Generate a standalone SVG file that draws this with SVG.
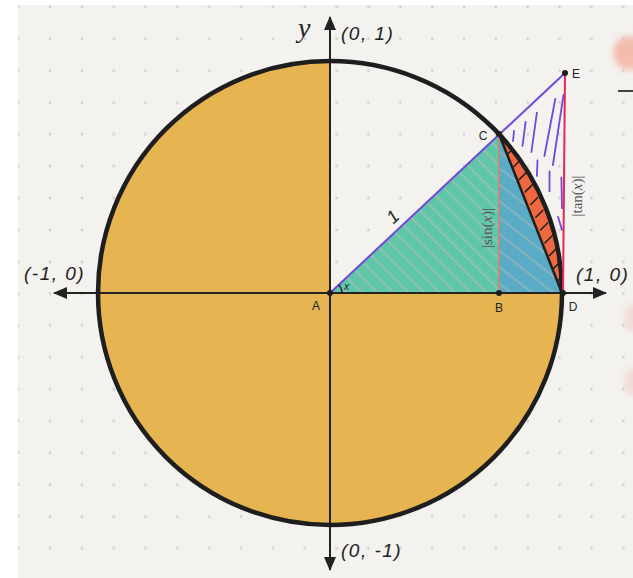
<svg xmlns="http://www.w3.org/2000/svg" width="633" height="578" viewBox="0 0 633 578">
<style>
.lbl{font-family:"Liberation Sans",Arial,sans-serif;font-style:italic;fill:#222;}
.pt{font-family:"Liberation Sans",Arial,sans-serif;fill:#222;font-size:12px;text-anchor:middle;}
.math{font-family:"Liberation Serif","DejaVu Serif",serif;fill:#555;font-size:15px;}
.ph{stroke:#7446dc;stroke-width:1.8;stroke-linecap:round;fill:none;}
.rh{stroke:#1e1e1e;stroke-width:1.5;stroke-linecap:round;fill:none;}
.dot{fill:#1e1e1e;}
</style>
<defs>
<pattern id="dots" patternUnits="userSpaceOnUse" x="34.075" y="-8.925" width="31.85" height="31.85">
<circle cx="15.925" cy="15.925" r="1.4" fill="#d3d1cc"/>
</pattern>
<pattern id="hg" patternUnits="userSpaceOnUse" width="11" height="11" patternTransform="rotate(-45)">
<line x1="5" y1="0" x2="5" y2="11" stroke="#c4bab0" stroke-width="2" stroke-opacity="0.5"/>
</pattern>
<pattern id="hb" patternUnits="userSpaceOnUse" width="13" height="13" patternTransform="rotate(-52)">
<line x1="6" y1="0" x2="6" y2="13" stroke="#c4bab0" stroke-width="1.8" stroke-opacity="0.45"/>
</pattern>
<marker id="arr" markerUnits="userSpaceOnUse" markerWidth="14" markerHeight="12" viewBox="0 0 14 12" refX="13" refY="6" orient="auto">
<path d="M0,0 L14,6 L0,12 Z" fill="#222"/>
</marker>
<filter id="blur" x="-50%" y="-50%" width="200%" height="200%"><feGaussianBlur stdDeviation="3"/></filter>
</defs>

<rect x="0" y="0" width="633" height="578" fill="#ffffff"/>
<rect x="18" y="5" width="615" height="573" fill="#f3f2ef"/>
<rect x="18" y="5" width="615" height="573" fill="url(#dots)"/>

<g id="edge-artifacts">
<circle cx="630" cy="53" r="17" fill="#f2ab99" opacity="0.75" filter="url(#blur)"/>
<line x1="618" y1="91" x2="633" y2="91" stroke="#444" stroke-width="2"/>
<ellipse cx="632" cy="318" rx="8" ry="14" fill="#f0c4c4" opacity="0.5" filter="url(#blur)"/>
<ellipse cx="632" cy="382" rx="8" ry="14" fill="#f0c4c4" opacity="0.5" filter="url(#blur)"/>
</g>

<g id="circle-fill">
<path d="M330,61 A232,232 0 1,0 562,293 L330,293 Z" fill="#e6b552"/>
</g>

<g id="triangle-ABC">
<path d="M330,293 L499,293 L499,134 Z" fill="#5fc6aa"/>
<path d="M330,293 L499,293 L499,134 Z" fill="url(#hg)"/>
</g>
<g id="triangle-BDC">
<path d="M499,293 L562,293 L499,134 Z" fill="#5aacc6"/>
<path d="M499,293 L562,293 L499,134 Z" fill="url(#hb)"/>
</g>
<g id="segment-CD">
<path d="M499,134 A232,232 0 0,1 562,293 Z" fill="#ef6840"/>
<path class="rh" d="M508,153.6 L511.6,150 M513.7,166.7 L519.3,161.1 M519.2,179.6 L526.2,172.6 M525.2,191.9 L532.2,184.9 M530.7,204.5 L537.7,197.5 M535.9,217.2 L542.9,210.2 M540.6,230 L547.6,223 M544.9,243 L551.9,236 M549.2,255.8 L555.6,249.4 M553.6,268.4 L558.4,263.6 M557.9,280.7 L560.5,278.1"/>
</g>
<g id="region-CED-hatch">
<path class="ph" d="M514,131 L513,141 M525.6,122 L522.5,145.8 M536.9,112.7 L531.4,152 M555.3,99 L544.4,156 M563.5,95 L552.9,165 M537.5,160.4 L536.9,175.8 M549.5,171.4 L549.5,191.2 M561.4,177.5 L562,208.2 M558,216.8 L562,230"/>
</g>

<g id="connectors">
<line id="x-axis" x1="68" y1="293" x2="592" y2="293" stroke="#222" stroke-width="2"/>
<line x1="100" y1="293" x2="54" y2="293" stroke="#222" stroke-width="2" marker-end="url(#arr)"/>
<line x1="560" y1="293" x2="606" y2="293" stroke="#222" stroke-width="2" marker-end="url(#arr)"/>
<line x1="330" y1="60" x2="330" y2="17" stroke="#222" stroke-width="2" marker-end="url(#arr)"/>
<line x1="330" y1="60" x2="330" y2="527" stroke="#222" stroke-width="2"/>
<line x1="330" y1="527" x2="330" y2="570" stroke="#222" stroke-width="2" marker-end="url(#arr)"/>
<circle cx="330" cy="293" r="232" fill="none" stroke="#1e1e1e" stroke-width="4.5"/>
<line id="BC" x1="499" y1="134" x2="499" y2="293" stroke="#d9806a" stroke-width="1.6"/>
<line id="CD" x1="499" y1="134" x2="562" y2="293" stroke="#1e1e1e" stroke-width="2.5"/>
<line id="DE" x1="565" y1="73" x2="563" y2="293" stroke="#e3294f" stroke-width="2"/>
<line id="AE" x1="330" y1="293" x2="565" y2="73" stroke="#7446dc" stroke-width="2"/>
<path id="angle" d="M342,293 A12,12 0 0,0 338.8,284.8" fill="none" stroke="#2a2050" stroke-width="1.5"/>
</g>

<g id="node-A"><circle class="dot" cx="330" cy="293" r="3"/><text class="pt" x="316" y="310">A</text><text class="lbl" x="344" y="290" font-size="10">x</text></g>
<g id="node-B"><circle class="dot" cx="499" cy="293" r="3"/><text class="pt" x="499" y="312">B</text></g>
<g id="node-C"><circle class="dot" cx="499" cy="134" r="3"/><text class="pt" x="483" y="140">C</text></g>
<g id="node-D"><circle class="dot" cx="563" cy="293" r="3"/><text class="pt" x="573" y="311">D</text></g>
<g id="node-E"><circle class="dot" cx="565" cy="73" r="3"/><text class="pt" x="576" y="78">E</text></g>

<g id="labels">
<text x="298" y="37" font-family="Liberation Serif,serif" font-style="italic" font-size="28" fill="#222">y</text>
<text class="lbl" x="341" y="40" font-size="19" letter-spacing="1.5">(0, 1)</text>
<text class="lbl" x="24" y="280" font-size="19" letter-spacing="1.5">(-1, 0)</text>
<text class="lbl" x="576" y="281" font-size="19" letter-spacing="1.5">(1, 0)</text>
<text class="lbl" x="341" y="557" font-size="19" letter-spacing="1.5">(0, -1)</text>
<text class="lbl" x="0" y="0" font-size="18" text-anchor="middle" transform="translate(397,221) rotate(-43)">1</text>
<text class="math" text-anchor="middle" transform="translate(492,228) rotate(-90)">|sin(<tspan font-style="italic">x</tspan>)|</text>
<text class="math" text-anchor="middle" transform="translate(582,196) rotate(-90)">|tan(<tspan font-style="italic">x</tspan>)|</text>
</g>
</svg>
